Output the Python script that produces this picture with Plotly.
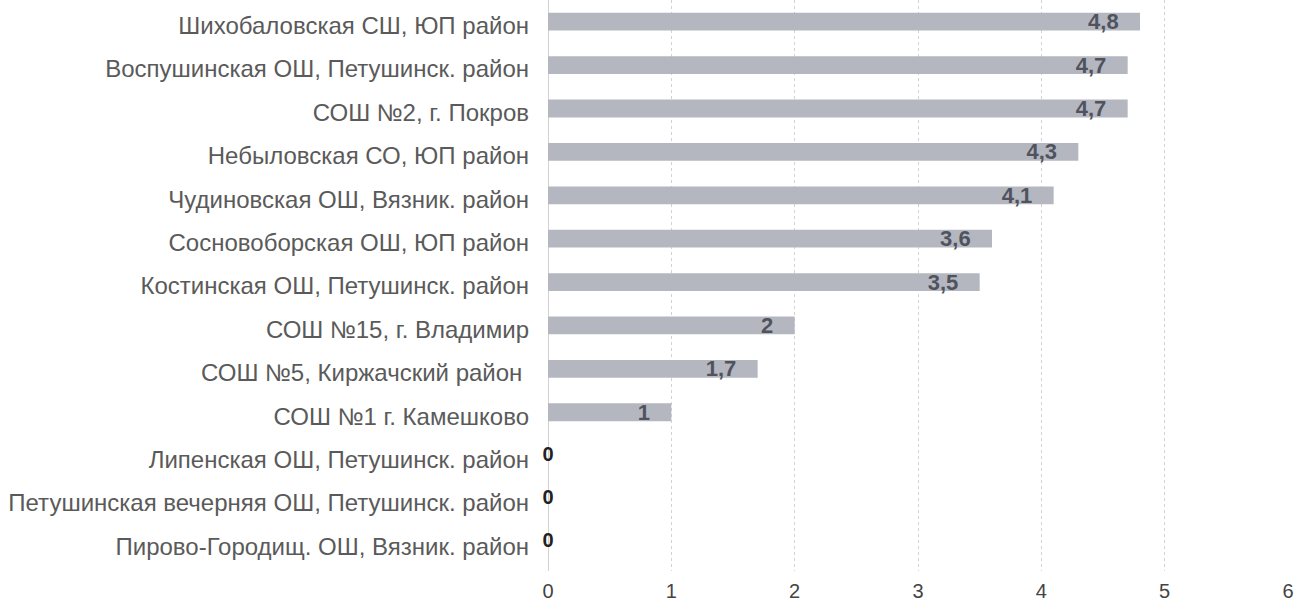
import plotly.graph_objects as go

categories = [
    "Шихобаловская СШ, ЮП район",
    "Воспушинская ОШ, Петушинск. район",
    "СОШ №2, г. Покров",
    "Небыловская СО, ЮП район",
    "Чудиновская ОШ, Вязник. район",
    "Сосновоборская ОШ, ЮП район",
    "Костинская ОШ, Петушинск. район",
    "СОШ №15, г. Владимир",
    "СОШ №5, Киржачский район ",
    "СОШ №1 г. Камешково",
    "Липенская ОШ, Петушинск. район",
    "Петушинская вечерняя ОШ, Петушинск. район",
    "Пирово-Городищ. ОШ, Вязник. район",
]
values = [4.8, 4.7, 4.7, 4.3, 4.1, 3.6, 3.5, 2, 1.7, 1, 0, 0, 0]
x_ticks = [0, 1, 2, 3, 4, 5, 6]

fmt = [("%g" % v).replace(".", ",") for v in values]
bar_labels = [s + "\u00a0\u00a0\u00a0" if v > 0 else "" for s, v in zip(fmt, values)]

zero_y = [c for c, v in zip(categories, values) if v == 0]
zero_x = [v for v in values if v == 0]
zero_t = [s for s, v in zip(fmt, values) if v == 0]

LBL_FONT = "Liberation Sans, Arial"

fig = go.Figure()
fig.add_trace(
    go.Bar(
        y=categories,
        x=values,
        orientation="h",
        width=0.41,
        marker=dict(color="#b5b7c0", line=dict(width=0)),
        text=bar_labels,
        textposition="inside",
        insidetextanchor="end",
        textangle=0,
        constraintext="none",
        cliponaxis=False,
        insidetextfont=dict(family=LBL_FONT, size=22, color="#50535e", weight="bold"),
        hoverinfo="skip",
    )
)
fig.add_trace(
    go.Scatter(
        y=zero_y,
        x=zero_x,
        mode="text",
        text=zero_t,
        textposition="middle center",
        textfont=dict(family=LBL_FONT, size=20, color="#222222", weight="bold"),
        cliponaxis=False,
        hoverinfo="skip",
    )
)

fig.update_layout(
    width=1311,
    height=610,
    margin=dict(l=548, r=23, t=0, b=39, autoexpand=False),
    paper_bgcolor="white",
    plot_bgcolor="white",
    showlegend=False,
    font=dict(family="Liberation Sans, Arial", color="#555555"),
)
fig.update_xaxes(
    range=[0, 6],
    tickvals=x_ticks,
    ticktext=[str(t) for t in x_ticks],
    showgrid=True,
    gridcolor="#d2d2d2",
    griddash="dot",
    gridwidth=1,
    zeroline=True,
    zerolinecolor="#d2d2d2",
    zerolinewidth=1,
    showline=False,
    automargin=False,
    tickfont=dict(size=20, color="#444444"),
    ticklabelstandoff=6,
)
fig.update_yaxes(
    categoryorder="array",
    categoryarray=categories[::-1],
    showgrid=False,
    zeroline=False,
    showline=False,
    automargin=False,
    tickfont=dict(size=24, color="#5a5a5a"),
    ticklabelstandoff=18,
    ticklabelshift=4,
)

fig.write_html(
    "out.html",
    config={"displayModeBar": False},
    post_script="document.body.style.margin='0';document.body.style.padding='0';",
)
